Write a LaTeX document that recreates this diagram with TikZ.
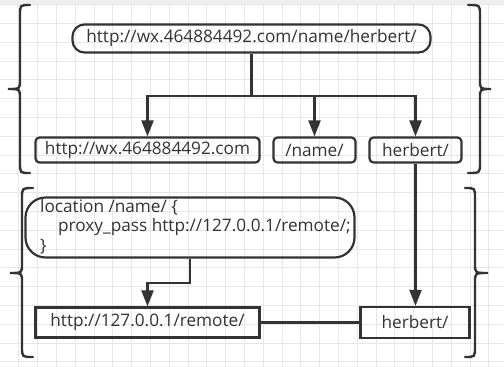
\documentclass[tikz,border=0pt]{standalone}
\usepackage{fontspec}
\setmainfont{Open Sans}
\usetikzlibrary{arrows.meta}
\definecolor{ink}{HTML}{333333}
\definecolor{gridc}{HTML}{E6E6E6}
\definecolor{band}{HTML}{EFEFEF}
\tikzset{
  txt/.style={text=ink, font=\fontsize{17.2}{19.5}\selectfont},
  box/.style={draw=ink, line width=2.2pt, txt, inner sep=0pt},
  rbox/.style={box, rounded corners=4pt},
  conn/.style={draw=ink, line width=2.2pt},
  arr/.style={conn, -{Triangle[length=16pt,width=12pt]}},
  brace/.style={draw=ink, line width=2.4pt, line cap=round},
}
\begin{document}
\begin{tikzpicture}[x=1pt,y=-1pt]
  % page and background grid
  \fill[white] (0,0) rectangle (504,367);
  \useasboundingbox (0,0) rectangle (504,367);
  \fill[band] (0,0) rectangle (504,4);
  \foreach \i in {1,...,26} \draw[gridc, line width=1pt] (\i*18.8,4) -- (\i*18.8,367);
  \foreach \j in {0,...,19} \draw[gridc, line width=1pt] (0,4.6+\j*18.8) -- (504,4.6+\j*18.8);

  % URL split into its parts
  \node[box, rounded corners=12pt, minimum width=358pt, minimum height=28pt] (top) at (251.5,38.5) {http://wx.464884492.com/name/herbert/};
  \node[rbox, minimum width=224pt, minimum height=25pt] (wx) at (147.5,150) {http://wx.464884492.com};
  \node[rbox, minimum width=82pt, minimum height=25pt] (name) at (314.5,150) {/name/};
  \node[rbox, minimum width=92pt, minimum height=25pt] (herbA) at (415.5,150) {herbert/};

  \coordinate (bus) at (0,96);
  \draw[conn] (top.south) -- (top.south |- bus);
  \draw[arr] (top.south |- bus) -| (wx.north);
  \draw[arr] (top.south |- bus) -| (name.north);
  \draw[arr] (top.south |- bus) -| (herbA.north);

  % nginx location block and the proxied address
  \node[box, rounded corners=20pt, minimum width=329pt, minimum height=60pt] (loc) at (190,227.5) {};
  \node[txt, anchor=west, align=left, inner sep=0pt] (code) at (40,226.5)
    {location /name/ \{\\\hspace*{18pt}proxy\_pass http://127.0.0.1/remote/;\\\}};
  \node[box, minimum width=224pt, minimum height=30pt] (remote) at (147.5,322.5) {http://127.0.0.1/remote/};
  \node[box, minimum width=109pt, minimum height=31pt] (herbB) at (415,322.5) {herbert/};

  \draw[arr] (loc.south) -- ++(0,24) -| (remote.north);
  \draw[arr] (herbA.south) -- (herbA.south |- herbB.north);
  \draw[conn] (remote.east) -- (herbB.west);

  % braces grouping the two halves
  \draw[brace] (30,5) .. controls (20,5) .. (20,15) -- (20,80) .. controls (20,89) .. (8,89)
    .. controls (20,89) .. (20,98) -- (20,163) .. controls (20,173) .. (30,173);
  \draw[brace] (468,5) .. controls (480,5) .. (480,15) -- (480,80) .. controls (480,89) .. (491,89)
    .. controls (480,89) .. (480,98) -- (480,163) .. controls (480,173) .. (468,173);
  \draw[brace] (33,188) .. controls (22,188) .. (22,198) -- (22,264) .. controls (22,273) .. (10,273)
    .. controls (22,273) .. (22,282) -- (22,347) .. controls (22,357) .. (33,357);
  \draw[brace] (465,188) .. controls (475,188) .. (475,198) -- (475,264) .. controls (475,273) .. (488,273)
    .. controls (475,273) .. (475,282) -- (475,347) .. controls (475,357) .. (465,357);
\end{tikzpicture}
\end{document}
